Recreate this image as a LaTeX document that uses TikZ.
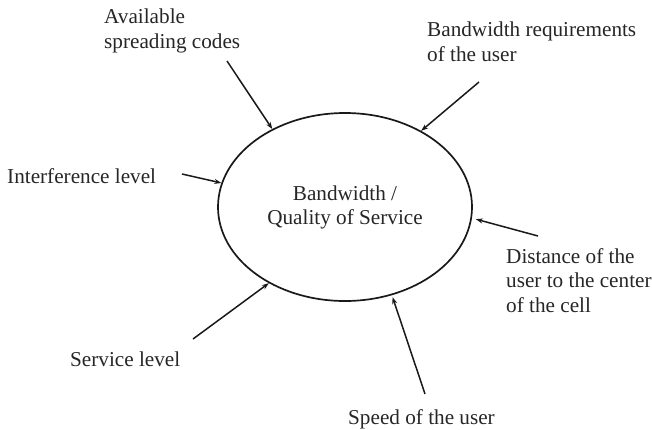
\documentclass[tikz,border=0pt]{standalone}
\usepackage{fontspec}
\setmainfont{Liberation Serif}
\usetikzlibrary{arrows.meta,shapes.geometric}
\begin{document}
\begin{tikzpicture}[x=1pt,y=-1pt,
  lbl/.style={anchor=base west,align=left,inner sep=0pt,text=black!85,
    font=\fontsize{21.2}{24.3}\selectfont},
  hub/.style={ellipse,draw=black!90,line width=1.7pt,minimum width=254pt,
    minimum height=188pt,inner sep=0pt,align=center,text=black!85,
    font=\fontsize{21.2}{24}\selectfont},
  feed/.style={draw=black!90,line width=1.5pt,
    -{Stealth[length=7pt,width=5pt]}}]
\useasboundingbox (0,0) rectangle (652,429);
\node[hub] (E) at (345,207) {Bandwidth /\\Quality of Service};

\node[lbl] (avail) at (104,48) {Available\\spreading codes};
\node[lbl] (req) at (427,61) {Bandwidth requirements\\of the user};
\node[lbl] (intf) at (7,183) {Interference level};
\node[lbl] (dist) at (506,312) {Distance of the\\user to the center\\of the cell};
\node[lbl] (serv) at (70,366) {Service level};
\node[lbl] (speed) at (348,424) {Speed of the user};

\coordinate (tA) at (227,61);
\coordinate (tR) at (479,82);
\coordinate (tI) at (182,174);
\coordinate (tD) at (538,236);
\coordinate (tS) at (193,339);
\coordinate (tV) at (425,394);

\draw[feed] (tA) -- (E.133.5);
\draw[feed] (tR) -- (E.45);
\draw[feed] (tI) -- (E.169);
\draw[feed,shorten >=4pt] (tD) -- (E.-5.6);
\draw[feed] (tS) -- (E.-135);
\draw[feed,shorten >=2pt] (tV) -- (E.-62);
\end{tikzpicture}
\end{document}
